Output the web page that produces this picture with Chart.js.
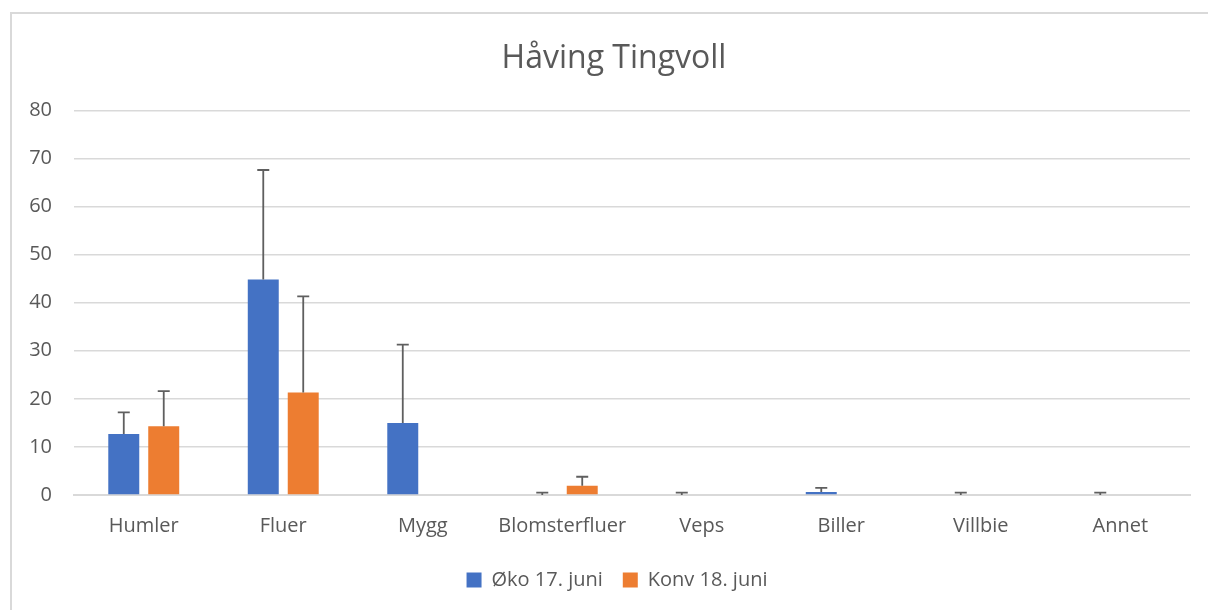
<!DOCTYPE html>
<html><head><meta charset="utf-8">
<script src="https://cdn.jsdelivr.net/npm/chart.js@4"></script>
<style>
html,body{margin:0;padding:0;background:#fff;overflow:hidden;}
#frame{position:absolute;left:10px;top:12px;width:1300px;height:700px;border:2px solid #d9d9d9;box-sizing:border-box;}
#c{position:absolute;left:0;top:0;}
</style></head>
<body>
<div id="frame"></div>
<canvas id="c" width="1208" height="610"></canvas>
<script>
const categories = ['Humler','Fluer','Mygg','Blomsterfluer','Veps','Biller','Villbie','Annet'];
const okoValues = [12.7, 44.8, 15.0, 0, 0, 0.6, 0, 0];
const okoErrors = [4.5, 22.8, 16.3, 0.5, 0.5, 0.9, 0.5, 0.5];
const konvValues = [14.3, 21.3, 0, 1.9, 0, 0, 0, 0];
const konvErrors = [7.3, 20.0, 0, 1.9, 0, 0, 0, 0];
const seriesNames = ['Øko 17. juni', 'Konv 18. juni'];
const titleText = 'Håving Tingvoll';

const errorBars = {
  id: 'errorBars',
  afterDatasetsDraw(chart) {
    const ctx = chart.ctx;
    const y = chart.scales.y;
    chart.data.datasets.forEach((ds, i) => {
      const meta = chart.getDatasetMeta(i);
      meta.data.forEach((bar, j) => {
        const e = ds.errors[j];
        if (!e) return;
        const v = ds.data[j];
        const y0 = y.getPixelForValue(v);
        const y1 = y.getPixelForValue(v + e);
        ctx.save();
        ctx.strokeStyle = '#5f5f5f';
        ctx.lineWidth = 1.8;
        ctx.beginPath();
        ctx.moveTo(bar.x, y0);
        ctx.lineTo(bar.x, y1);
        ctx.moveTo(bar.x - 6, y1);
        ctx.lineTo(bar.x + 6, y1);
        ctx.stroke();
        ctx.restore();
      });
    });
  }
};

const shiftBlocks = {
  id: 'shiftBlocks',
  afterLayout(chart) {
    if (chart.titleBlock) chart.titleBlock.left += 24;
    if (chart.legend) chart.legend.left += 30;
  }
};

Chart.defaults.font.family = '"Open Sans", "Liberation Sans", sans-serif';
Chart.defaults.color = '#595959';

new Chart(document.getElementById('c'), {
  type: 'bar',
  data: {
    labels: categories,
    datasets: [
      { label: seriesNames[0], data: okoValues, errors: okoErrors, backgroundColor: '#4472c4', categoryPercentage: 0.573, barPercentage: 0.775 },
      { label: seriesNames[1], data: konvValues, errors: konvErrors, backgroundColor: '#ed7d31', categoryPercentage: 0.573, barPercentage: 0.775 }
    ]
  },
  options: {
    responsive: false,
    animation: false,
    layout: { padding: { left: 14, right: 18, top: 40, bottom: 10 } },
    plugins: {
      title: { display: true, text: titleText, font: { size: 32, weight: 'normal' }, color: '#595959', padding: { top: 0, bottom: 32 } },
      legend: {
        position: 'bottom',
        labels: { boxWidth: 15, boxHeight: 15, font: { size: 20 }, color: '#595959', padding: 20 }
      },
      tooltip: { enabled: false }
    },
    scales: {
      x: {
        grid: { display: false },
        border: { color: '#d9d9d9', width: 2 },
        ticks: { font: { size: 20 }, color: '#595959', padding: 11, maxRotation: 0 },
        afterFit(s) { s.height = 55; }
      },
      y: {
        min: 0, max: 80,
        ticks: { stepSize: 10, font: { size: 20 }, color: '#595959', padding: 22 },
        grid: { color: '#d9d9d9', lineWidth: 1.5, drawTicks: false },
        border: { display: false },
        afterFit(s) { s.width = 60; }
      }
    }
  },
  plugins: [errorBars, shiftBlocks]
});
</script>
</body></html>
